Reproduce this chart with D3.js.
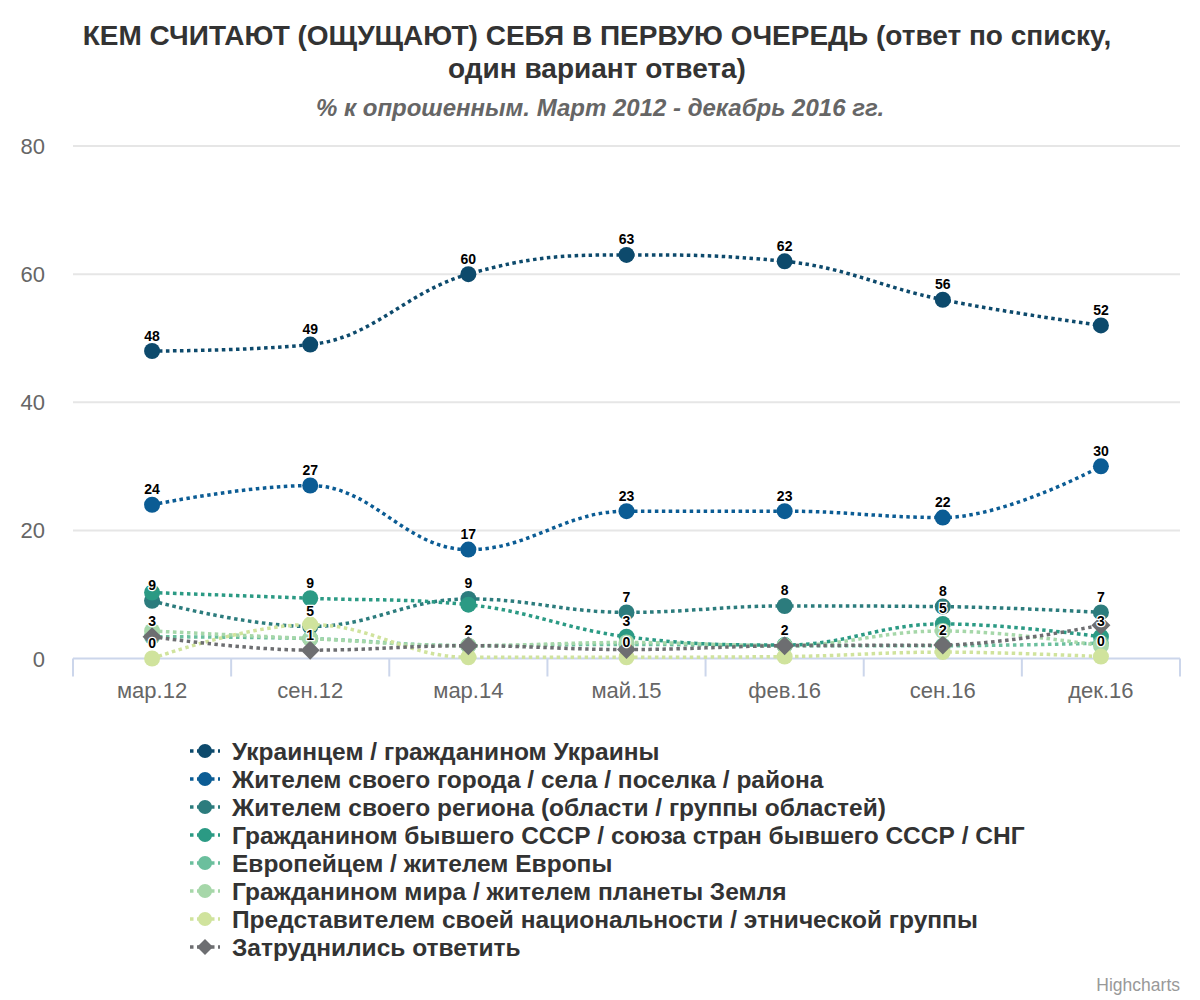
<!DOCTYPE html>
<html>
<head>
<meta charset="utf-8">
<script src="https://cdn.jsdelivr.net/npm/d3@7"></script>
<style>
  body { margin: 0; background: #fff; }
  svg { font-family: "Liberation Sans", Arial, sans-serif; }
</style>
</head>
<body>
<div id="chart"></div>
<script>
// survey: who do people consider themselves first of all

const categories = ["мар.12", "сен.12", "мар.14", "май.15", "фев.16", "сен.16", "дек.16"];
const yTicks = [0, 20, 40, 60, 80];

const seriesNames = [
  "Украинцем / гражданином Украины",
  "Жителем своего города / села / поселка / района",
  "Жителем своего региона (области / группы областей)",
  "Гражданином бывшего СССР / союза стран бывшего СССР / СНГ",
  "Европейцем / жителем Европы",
  "Гражданином мира / жителем планеты Земля",
  "Представителем своей национальности / этнической группы",
  "Затруднились ответить"
];

const ukrainian = [48, 49, 60, 63, 62, 56, 52];
const townDweller = [24, 27, 17, 23, 23, 22, 30];
const regionDweller = [9.0, 5.0, 9.3, 7.2, 8.2, 8.1, 7.2];
const exUssr = [10.3, 9.4, 8.4, 3.4, 2.1, 5.4, 3.4];
const european = [3.4, 3.1, 2.0, 2.2, 2.0, 2.0, 2.4];
const worldCitizen = [4.3, 3.1, 2.0, 2.5, 2.0, 4.3, 2.0];
const ethnic = [0, 5.3, 0.2, 0.2, 0.3, 1.0, 0.3];
const hardToSay = [3.4, 1.3, 2.0, 1.4, 2.0, 2.1, 5.2];

const seriesValues = [ukrainian, townDweller, regionDweller, exUssr, european, worldCitizen, ethnic, hardToSay];
const seriesColors = ["#0d4a6c", "#0b5c94", "#2c7c7d", "#2b9a84", "#6bbf9d", "#a6d7a9", "#d0e39d", "#6d6e71"];
const seriesSymbols = ["circle", "circle", "circle", "circle", "circle", "circle", "circle", "diamond"];

const W = 1200, H = 1000;
const plot = { left: 73, right: 1180, top: 146, bottom: 658.5 };

const svg = d3.select("#chart").append("svg")
  .attr("width", W)
  .attr("height", H);

// titles
svg.append("text")
  .attr("x", 597).attr("y", 45)
  .attr("text-anchor", "middle")
  .attr("font-size", "28px").attr("font-weight", "bold").attr("fill", "#333")
  .text("КЕМ СЧИТАЮТ (ОЩУЩАЮТ) СЕБЯ В ПЕРВУЮ ОЧЕРЕДЬ (ответ по списку,");
svg.append("text")
  .attr("x", 597).attr("y", 78)
  .attr("text-anchor", "middle")
  .attr("font-size", "28px").attr("font-weight", "bold").attr("fill", "#333")
  .text("один вариант ответа)");
svg.append("text")
  .attr("x", 600).attr("y", 116)
  .attr("text-anchor", "middle")
  .attr("font-size", "24px").attr("font-weight", "bold").attr("font-style", "italic").attr("fill", "#666")
  .text("% к опрошенным. Март 2012 - декабрь 2016 гг.");

// scales
const x = d3.scaleBand().domain(categories).range([plot.left, plot.right]);
const cx = d => x(d) + x.bandwidth() / 2;
const y = d3.scaleLinear().domain([0, 80]).range([plot.bottom, plot.top]);

// grid
svg.append("g").selectAll("line")
  .data(yTicks.filter(t => t > 0))
  .enter().append("line")
  .attr("x1", plot.left).attr("x2", plot.right)
  .attr("y1", d => y(d)).attr("y2", d => y(d))
  .attr("stroke", "#e6e6e6").attr("stroke-width", 2);

// y labels
svg.append("g").selectAll("text")
  .data(yTicks)
  .enter().append("text")
  .attr("x", 45).attr("y", d => y(d) + 8)
  .attr("text-anchor", "end")
  .attr("font-size", "22px").attr("fill", "#666")
  .text(d => d);

// x axis
const xAxis = svg.append("g").attr("transform", `translate(0,${plot.bottom})`);
xAxis.append("line")
  .attr("x1", plot.left).attr("x2", plot.right)
  .attr("stroke", "#ccd6eb").attr("stroke-width", 2);
const tickPos = categories.map(c => x(c)).concat([plot.right]);
xAxis.selectAll(".tick")
  .data(tickPos)
  .enter().append("line")
  .attr("x1", d => d).attr("x2", d => d)
  .attr("y1", 0).attr("y2", 18)
  .attr("stroke", "#ccd6eb").attr("stroke-width", 2);
xAxis.selectAll(".xl")
  .data(categories)
  .enter().append("text")
  .attr("x", d => cx(d)).attr("y", 39)
  .attr("text-anchor", "middle")
  .attr("font-size", "22px").attr("fill", "#666")
  .text(d => d);

// spline path the way highcharts builds it
function splinePath(pts) {
  const smoothing = 1.5, denom = smoothing + 1;
  let d = `M${pts[0][0]},${pts[0][1]}`;
  let lastRight = null;
  for (let i = 1; i < pts.length; i++) {
    const [px, py] = pts[i];
    const prev = pts[i - 1], next = pts[i + 1];
    let lcx = px, lcy = py, rc = null;
    if (next) {
      const [lx, ly] = prev, [nx, ny] = next;
      lcx = (smoothing * px + lx) / denom;
      lcy = (smoothing * py + ly) / denom;
      let rcx = (smoothing * px + nx) / denom;
      let rcy = (smoothing * py + ny) / denom;
      let corr = 0;
      if (rcx !== lcx) corr = ((rcy - lcy) * (rcx - px)) / (rcx - lcx) + py - rcy;
      lcy += corr; rcy += corr;
      if (lcy > ly && lcy > py) { lcy = Math.max(ly, py); rcy = 2 * py - lcy; }
      else if (lcy < ly && lcy < py) { lcy = Math.min(ly, py); rcy = 2 * py - lcy; }
      if (rcy > ny && rcy > py) { rcy = Math.max(ny, py); lcy = 2 * py - rcy; }
      else if (rcy < ny && rcy < py) { rcy = Math.min(ny, py); lcy = 2 * py - rcy; }
      rc = [rcx, rcy];
    }
    const a = lastRight || prev;
    d += `C${a[0]},${a[1]} ${lcx},${lcy} ${px},${py}`;
    lastRight = rc;
  }
  return d;
}

function drawMarker(g, sym, px, py, color, r) {
  if (sym === "diamond") {
    g.append("path")
      .attr("d", `M${px},${py - r}L${px + r},${py}L${px},${py + r}L${px - r},${py}Z`)
      .attr("fill", color);
  } else {
    g.append("circle").attr("cx", px).attr("cy", py).attr("r", r).attr("fill", color);
  }
}

// series
seriesValues.forEach((vals, si) => {
  const g = svg.append("g");
  const pts = vals.map((v, i) => [cx(categories[i]), y(v)]);
  g.append("path")
    .attr("d", splinePath(pts))
    .attr("fill", "none")
    .attr("stroke", seriesColors[si])
    .attr("stroke-width", 3.5)
    .attr("stroke-dasharray", "3.5,3.5");
  pts.forEach(p => drawMarker(g, seriesSymbols[si], p[0], p[1], seriesColors[si], seriesSymbols[si] === "diamond" ? 9.5 : 8));
});

// data labels, hiding overlaps (earlier series win)
const labelG = svg.append("g");
const placed = [];
seriesValues.forEach((vals, si) => {
  vals.forEach((v, i) => {
    const px = cx(categories[i]);
    const mid = y(v) - 15.5;
    const t = labelG.append("text")
      .attr("x", px).attr("y", mid + 5)
      .attr("text-anchor", "middle")
      .attr("font-size", "14px").attr("font-weight", "bold")
      .attr("fill", "#000")
      .attr("stroke", "#fff").attr("stroke-width", 2.5)
      .attr("stroke-linejoin", "round")
      .style("paint-order", "stroke")
      .text(Math.round(v));
    const w = t.node().getBBox().width;
    const box = { x0: px - w / 2, x1: px + w / 2, y0: mid - 8, y1: mid + 8 };
    const hit = placed.some(b => b.x0 < box.x1 && box.x0 < b.x1 && b.y0 < box.y1 && box.y0 < b.y1);
    if (hit) t.remove();
    else placed.push(box);
  });
});

// legend
const legend = svg.append("g");
seriesNames.forEach((name, si) => {
  const ly = 751 + si * 28;
  const item = legend.append("g");
  item.append("line")
    .attr("x1", 190).attr("x2", 220).attr("y1", ly).attr("y2", ly)
    .attr("stroke", seriesColors[si]).attr("stroke-width", 3.5)
    .attr("stroke-dasharray", "3.5,3.5");
  drawMarker(item, seriesSymbols[si], 205, ly, seriesColors[si], seriesSymbols[si] === "diamond" ? 8 : 7);
  item.append("text")
    .attr("x", 232).attr("y", ly + 8.5)
    .attr("font-size", "24.5px").attr("font-weight", "bold").attr("fill", "#333")
    .text(name);
});

// credits
svg.append("text")
  .attr("x", 1180).attr("y", 991)
  .attr("text-anchor", "end")
  .attr("font-size", "17.5px").attr("fill", "#999")
  .text("Highcharts");
</script>
</body>
</html>
